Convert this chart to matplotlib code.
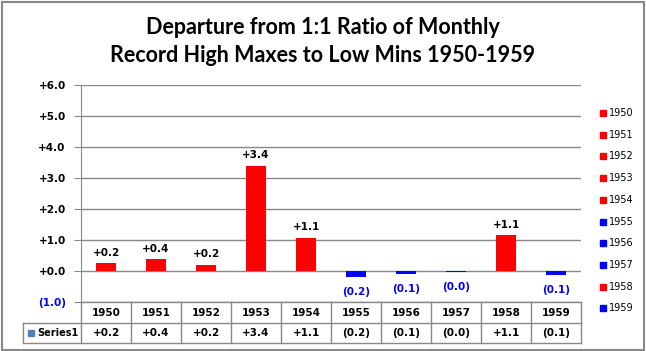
import numpy as np
import matplotlib.pyplot as plt
import matplotlib.transforms as mtransforms

years = ['1950', '1951', '1952', '1953', '1954', '1955', '1956', '1957', '1958', '1959']
values = [0.25, 0.38, 0.20, 3.40, 1.08, -0.20, -0.10, -0.03, 1.15, -0.13]
value_labels = ['+0.2', '+0.4', '+0.2', '+3.4', '+1.1', '(0.2)', '(0.1)', '(0.0)', '+1.1', '(0.1)']
yticks = [-1, 0, 1, 2, 3, 4, 5, 6]
ytick_labels = ['(1.0)', '+0.0', '+1.0', '+2.0', '+3.0', '+4.0', '+5.0', '+6.0']

W, H = 646, 351
fig = plt.figure(figsize=(W / 100, H / 100), dpi=100)
ax = fig.add_axes([81 / W, 1 - 302 / H, 500 / W, 217 / H])

x = np.arange(len(years))
colors = ['#ff0000' if v >= 0 else '#0000ff' for v in values]
ax.bar(x, values, 0.4, color=colors, zorder=3)

ax.set_xlim(-0.5, len(years) - 0.5)
ax.set_ylim(-1, 6)
ax.set_yticks(yticks)
ax.set_yticklabels(ytick_labels, fontsize=7.5, fontweight='bold', family='DejaVu Sans')
for t, v in zip(ax.get_yticklabels(), yticks):
    t.set_color('#0000ff' if v < 0 else 'black')
ax.set_xticks([])
ax.grid(axis='y', color='#888888', linewidth=1)
for s in ['top', 'right', 'bottom']:
    ax.spines[s].set_visible(False)
ax.spines['left'].set_color('#888888')
ax.tick_params(axis='y', length=5, color='#888888', pad=6)

# data labels
for xi, v, lab in zip(x, values, value_labels):
    if v >= 0:
        ax.annotate(lab, (xi, v), xytext=(0, 4), textcoords='offset points',
                    ha='center', va='bottom', fontsize=7.5, fontweight='bold')
    else:
        ax.annotate(lab, (xi, v), xytext=(0, -7), textcoords='offset points',
                    ha='center', va='top', fontsize=7.5, fontweight='bold', color='#0000ff')

# data table under the axis
tr = mtransforms.blended_transform_factory(ax.transData, fig.transFigure)
r0, r1, r2 = 1 - 302 / H, 1 - 323 / H, 1 - 343 / H
lc = '#888888'
x_left = -0.5 - 58 / 50
ax.plot([-0.5, len(years) - 0.5], [r0, r0], transform=tr, color=lc, lw=1, clip_on=False)
ax.plot([x_left, len(years) - 0.5], [r1, r1], transform=tr, color=lc, lw=1, clip_on=False)
ax.plot([x_left, len(years) - 0.5], [r2, r2], transform=tr, color=lc, lw=1, clip_on=False)
ax.plot([x_left, x_left], [r1, r2], transform=tr, color=lc, lw=1, clip_on=False)
for b in np.arange(len(years) + 1) - 0.5:
    ax.plot([b, b], [r0, r2], transform=tr, color=lc, lw=1, clip_on=False)
for xi, y, lab in zip(x, years, value_labels):
    ax.text(xi, (r0 + r1) / 2, y, transform=tr, ha='center', va='center', fontsize=7.5, fontweight='bold')
    ax.text(xi, (r1 + r2) / 2, lab, transform=tr, ha='center', va='center', fontsize=7.5, fontweight='bold')
fig.patches.append(plt.Rectangle((28 / W, (r1 + r2) / 2 - 3 / H), 6 / W, 6 / H,
                                 transform=fig.transFigure, color='#4f81bd'))
fig.text(37 / W, (r1 + r2) / 2, 'Series1', ha='left', va='center', fontsize=7, fontweight='bold')

# legend on the right
for i, (y, c) in enumerate(zip(years, colors)):
    yy = 1 - (113 + i * 21.7) / H
    fig.patches.append(plt.Rectangle((600 / W, yy - 3 / H), 6 / W, 6 / H,
                                     transform=fig.transFigure, color=c))
    fig.text(609 / W, yy, y, ha='left', va='center', fontsize=7)

fig.text(323 / W, 1 - 28 / H, 'Departure from 1:1 Ratio of Monthly', ha='center', va='center',
         fontsize=15.5, fontweight='bold', family='Lato')
fig.text(323 / W, 1 - 55 / H, 'Record High Maxes to Low Mins 1950-1959', ha='center', va='center',
         fontsize=15.5, fontweight='bold', family='Lato')

fig.patches.append(plt.Rectangle((1.5 / W, 1.5 / H), 642 / W, 348 / H, transform=fig.transFigure,
                                 fill=False, edgecolor='#888888', lw=1.5))

fig.savefig('out.png', dpi=100)
